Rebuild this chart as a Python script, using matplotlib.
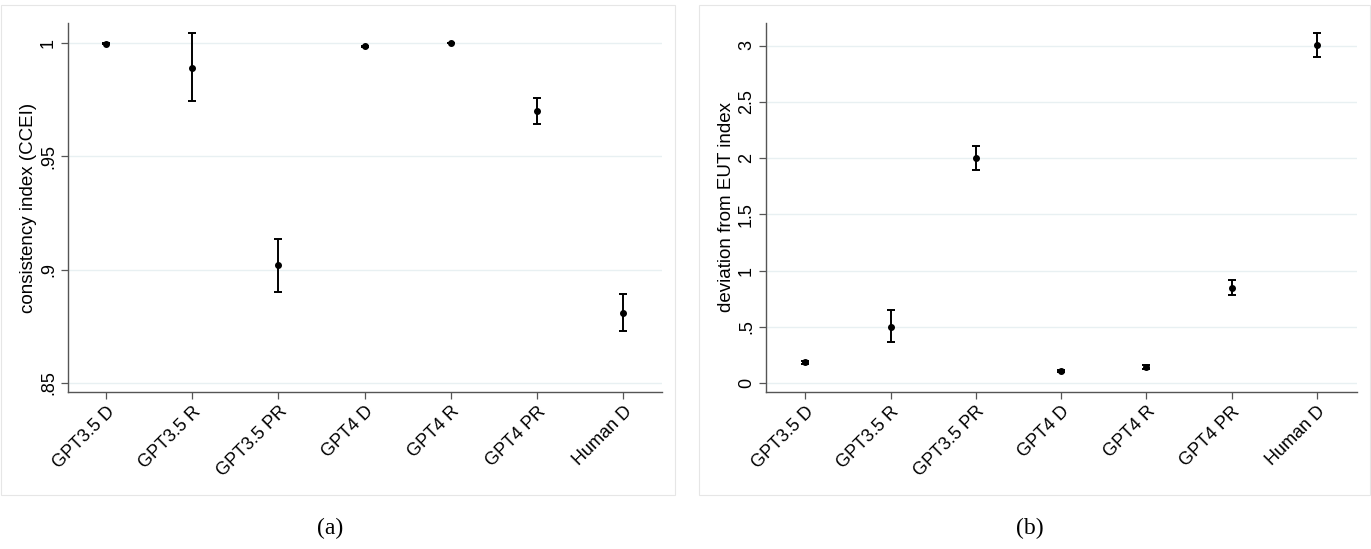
import matplotlib
matplotlib.use("Agg")
import matplotlib.pyplot as plt
from matplotlib.patches import Rectangle

categories = ["GPT3.5 D", "GPT3.5 R", "GPT3.5 PR", "GPT4 D", "GPT4 R", "GPT4 PR", "Human D"]

ccei_mean = [0.9996, 0.989, 0.9018, 0.9984, 0.9999, 0.9698, 0.8808]
ccei_low = [0.9993, 0.9742, 0.8902, 0.9981, 0.9997, 0.9641, 0.8729]
ccei_high = [0.9999, 1.0041, 0.9135, 0.9987, 1.0001, 0.9757, 0.8890]

eut_mean = [0.183, 0.50, 1.999, 0.104, 0.142, 0.846, 3.003]
eut_low = [0.165, 0.361, 1.890, 0.095, 0.125, 0.778, 2.900]
eut_high = [0.200, 0.651, 2.109, 0.113, 0.160, 0.920, 3.107]

ccei_ticks = [0.85, 0.9, 0.95, 1.0]
ccei_ticklabels = [".85", ".9", ".95", "1"]
eut_ticks = [0, 0.5, 1, 1.5, 2, 2.5, 3]
eut_ticklabels = ["0", ".5", "1", "1.5", "2", "2.5", "3"]

plt.rcParams['font.family'] = ['Liberation Sans', 'DejaVu Sans']

W, H = 1371, 549
fig = plt.figure(figsize=(W / 100, H / 100), dpi=100)

# panel frames
for x0, x1 in [(1, 675), (699, 1370)]:
    fig.patches.append(Rectangle((x0 / W, 1 - 495 / H), (x1 - x0) / W, (495 - 5) / H,
                                 transform=fig.transFigure, fill=False,
                                 edgecolor='#e6e6e6', linewidth=0.8))

grid_c = '#e8f0f2'
axis_c = '#555555'


def make_panel(rect, mean, low, high, ticks, ticklabels, ylabel, ylim, xlim):
    ax = fig.add_axes(rect)
    x = list(range(len(categories)))
    yerr = [[m - l for m, l in zip(mean, low)], [h - m for m, h in zip(mean, high)]]
    ax.errorbar(x, mean, yerr=yerr, fmt='o', color='black', ecolor='black',
                markersize=4, elinewidth=1.4, capsize=3, capthick=1.4, zorder=3)
    ax.set_ylim(*ylim)
    ax.set_xlim(*xlim)
    ax.set_yticks(ticks)
    ax.set_yticklabels(ticklabels, rotation=90, va='center', fontsize=13)
    ax.set_xticks(x)
    ax.set_xticklabels(categories, rotation=45, ha='right', rotation_mode='anchor',
                       fontsize=13)
    for t in ticks:
        ax.axhline(t, color=grid_c, linewidth=1.0, zorder=0)
    for s in ['top', 'right']:
        ax.spines[s].set_visible(False)
    for s in ['left', 'bottom']:
        ax.spines[s].set_color(axis_c)
        ax.spines[s].set_linewidth(1.0)
    ax.tick_params(axis='both', colors=axis_c, length=5, width=0.9, labelcolor='black')
    ax.tick_params(axis='x', pad=3)
    ax.tick_params(axis='y', pad=3)
    ax.set_ylabel(ylabel, fontsize=13.5, labelpad=2)
    return ax


ax1 = make_panel([68 / W, 1 - 392 / H, (662 - 68) / W, (392 - 23) / H],
                 ccei_mean, ccei_low, ccei_high, ccei_ticks, ccei_ticklabels,
                 "consistency index (CCEI)", (0.846, 1.0087), (-0.44, 6.45))
ax2 = make_panel([766 / W, 1 - 392 / H, (1357 - 766) / W, (392 - 23) / H],
                 eut_mean, eut_low, eut_high, eut_ticks, eut_ticklabels,
                 "deviation from EUT index", (-0.08, 3.20), (-0.46, 6.47))

fig.text(330 / W, 1 - 528 / H, "(a)", ha='center', va='center', fontsize=17,
         family=['Liberation Serif', 'DejaVu Serif'])
fig.text(1030 / W, 1 - 528 / H, "(b)", ha='center', va='center', fontsize=17,
         family=['Liberation Serif', 'DejaVu Serif'])

fig.savefig("out.png", dpi=100, facecolor='white')
